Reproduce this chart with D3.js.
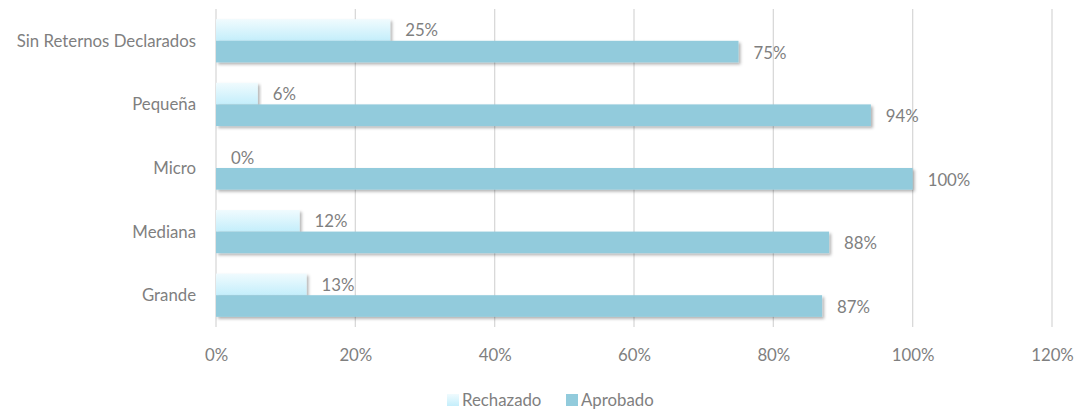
<!DOCTYPE html>
<html><head><meta charset="utf-8">
<script src="https://cdn.jsdelivr.net/npm/d3@7"></script>
<style>body{margin:0;background:#fff}text{font-family:Lato,"Open Sans",sans-serif}</style>
</head><body><svg id="c" width="1079" height="413"></svg>
<script>
const categories = ["Sin Reternos Declarados","Pequeña","Micro","Mediana","Grande"];
const rechazado = [25, 6, 0, 12, 13];
const aprobado = [75, 94, 100, 88, 87];
const ticks = [0,20,40,60,80,100,120];
const seriesNames = ["Rechazado","Aprobado"];

const svg = d3.select("#c");
const x = d3.scaleLinear().domain([0,120]).range([216,1052]);
const y = d3.scaleBand().domain(categories).range([9,327]).paddingInner(0.32).paddingOuter(0.16);
const grey = "#7f7f7f";
const fs = 16.8;

const defs = svg.append("defs");
const g1 = defs.append("linearGradient").attr("id","gr").attr("x1",0).attr("y1",0).attr("x2",0).attr("y2",1);
g1.append("stop").attr("offset","0%").attr("stop-color","#f0fbfe");
g1.append("stop").attr("offset","100%").attr("stop-color","#c4eefb");
const f = defs.append("filter").attr("id","sh").attr("x","-5%").attr("y","-20%").attr("width","115%").attr("height","160%");
f.append("feDropShadow").attr("dx",2).attr("dy",2).attr("stdDeviation",1.5).attr("flood-color","#000").attr("flood-opacity",0.3);

// grid
svg.append("g").selectAll("line").data(ticks).join("line")
  .attr("x1",d=>x(d)).attr("x2",d=>x(d)).attr("y1",9).attr("y2",327)
  .attr("stroke","#d9d9d9").attr("stroke-width",1.3);

// axis labels
const xa = svg.append("g").attr("transform","translate(0,358)")
  .call(d3.axisBottom(x).tickValues(ticks).tickSize(0).tickFormat(d=>d+"%"));
xa.select(".domain").remove();
xa.selectAll("text").attr("fill",grey).attr("font-size",fs).attr("dy","0");

const ya = svg.append("g").attr("transform","translate(196,0)")
  .call(d3.axisLeft(y).tickSize(0).tickPadding(0));
ya.select(".domain").remove();
ya.selectAll("text").attr("fill",grey).attr("font-size",fs).attr("dy","0.36em");

const bh = y.bandwidth()/2;
// rechazado bars (top), drawn first so aprobado covers its lower shadow
svg.append("g").selectAll("rect").data(categories).join("rect")
  .attr("x",x(0)).attr("y",d=>y(d)).attr("height",bh)
  .attr("width",(d,i)=>x(rechazado[i])-x(0)).attr("fill","url(#gr)").attr("filter","url(#sh)");
// aprobado bars (bottom)
svg.append("g").selectAll("rect").data(categories).join("rect")
  .attr("x",x(0)).attr("y",d=>y(d)+bh).attr("height",bh)
  .attr("width",(d,i)=>x(aprobado[i])-x(0)).attr("fill","#92cbdc").attr("filter","url(#sh)");

// labels
svg.append("g").selectAll("text").data(categories).join("text")
  .attr("x",(d,i)=>x(rechazado[i])+15).attr("y",d=>y(d)+bh/2+6.5)
  .attr("fill",grey).attr("font-size",fs).text((d,i)=>rechazado[i]+"%");
svg.append("g").selectAll("text").data(categories).join("text")
  .attr("x",(d,i)=>x(aprobado[i])+15).attr("y",d=>y(d)+bh*1.5+7)
  .attr("fill",grey).attr("font-size",fs).text((d,i)=>aprobado[i]+"%");

// legend
const lg = svg.append("g").attr("transform","translate(447,406)");
const fills = ["url(#gr)","#92cbdc"];
const offs = [0,119];
seriesNames.forEach((n,i)=>{
  lg.append("rect").attr("x",offs[i]).attr("y",-12).attr("width",12).attr("height",12).attr("fill",fills[i]);
  lg.append("text").attr("x",offs[i]+15).attr("y",0).attr("fill",grey).attr("font-size",fs).text(n);
});
</script></body></html>
